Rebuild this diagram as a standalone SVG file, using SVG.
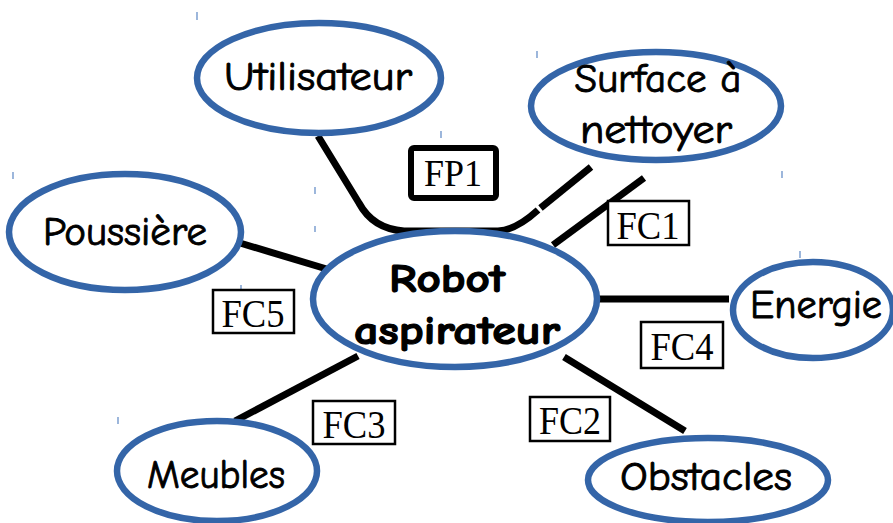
<svg xmlns="http://www.w3.org/2000/svg" width="893" height="523" viewBox="0 0 893 523">
  <style>
    .node { fill: #ffffff; stroke: #3465a8; stroke-width: 6.5; }
    .lbl { font-family: "Comic Neue", "DejaVu Sans", sans-serif; font-size: 40px; font-weight: 400; fill: #000; stroke: #000; stroke-width: 0.9; text-anchor: middle; }
    .main { font-size: 41px; font-weight: 700; stroke-width: 1.2; }
    .link { fill: none; stroke: #000; stroke-width: 7; stroke-linecap: butt; stroke-linejoin: round; }
    .fc rect { fill: #fff; stroke: #000; stroke-width: 2.5; }
    .fc text { font-family: "Liberation Serif", serif; font-size: 40px; fill: #000; text-anchor: middle; }
    .tick { stroke: #5b86c4; stroke-width: 1.2; }
  </style>

  <rect width="893" height="523" fill="#ffffff"/>

  <!-- cursor ticks -->
  <g id="ticks">
    <line class="tick" x1="197" y1="12" x2="197" y2="20"/>
    <line class="tick" x1="537" y1="51" x2="537" y2="58"/>
    <line class="tick" x1="13" y1="172" x2="13" y2="179"/>
    <line class="tick" x1="315" y1="187" x2="315" y2="194"/>
    <line class="tick" x1="441" y1="131" x2="441" y2="138"/>
    <line class="tick" x1="315" y1="226" x2="315" y2="232"/>
    <line class="tick" x1="241" y1="285" x2="241" y2="291"/>
    <line class="tick" x1="118" y1="417" x2="118" y2="424"/>
    <line class="tick" x1="782" y1="171" x2="782" y2="178"/>
    <line class="tick" x1="800" y1="251" x2="800" y2="258"/>
  </g>

  <!-- connectors -->
  <g id="connectors">
    <path class="link" d="M318,136 L359,203 Q373,229 404,231 L498,231 Q516,230 538,210"/>
    <line class="link" x1="540.5" y1="208" x2="591" y2="167"/>
    <line class="link" x1="644" y1="178" x2="553" y2="245"/>
    <line class="link" x1="240" y1="243" x2="330" y2="270"/>
    <line class="link" x1="597" y1="299" x2="729" y2="299"/>
    <line class="link" x1="235" y1="421" x2="358" y2="356"/>
    <line class="link" x1="564" y1="357" x2="685" y2="431"/>
  </g>

  <g id="utilisateur">
    <ellipse class="node" cx="319" cy="78" rx="122" ry="55"/>
    <text class="lbl" x="318" y="90" textLength="188" lengthAdjust="spacingAndGlyphs">Utilisateur</text>
  </g>

  <g id="surface">
    <ellipse class="node" cx="656" cy="106" rx="125" ry="54"/>
    <text class="lbl" x="658" y="92" textLength="167" lengthAdjust="spacingAndGlyphs">Surface à</text>
    <text class="lbl" x="656" y="143" textLength="152" lengthAdjust="spacingAndGlyphs">nettoyer</text>
  </g>

  <g id="poussiere">
    <ellipse class="node" cx="125" cy="232" rx="116" ry="58"/>
    <text class="lbl" x="125" y="245" textLength="164" lengthAdjust="spacingAndGlyphs">Poussière</text>
  </g>

  <g id="robot">
    <ellipse class="node" cx="455" cy="299" rx="142" ry="68"/>
    <text class="lbl main" x="447" y="292" textLength="116" lengthAdjust="spacingAndGlyphs">Robot</text>
    <text class="lbl main" x="457" y="344" textLength="206" lengthAdjust="spacingAndGlyphs">aspirateur</text>
  </g>

  <g id="energie">
    <ellipse class="node" cx="813" cy="310" rx="80" ry="48"/>
    <text class="lbl" x="816" y="318" textLength="132" lengthAdjust="spacingAndGlyphs">Energie</text>
  </g>

  <g id="meubles">
    <ellipse class="node" cx="217" cy="471" rx="100" ry="50"/>
    <text class="lbl" x="216" y="488" textLength="138" lengthAdjust="spacingAndGlyphs">Meubles</text>
  </g>

  <g id="obstacles">
    <ellipse class="node" cx="708" cy="480" rx="120" ry="42"/>
    <text class="lbl" x="706" y="490" textLength="172" lengthAdjust="spacingAndGlyphs">Obstacles</text>
  </g>

  <!-- function labels -->
  <g id="fp1" class="fc">
    <rect x="411" y="148" width="85" height="50" rx="3" style="stroke-width:6"/>
    <text x="453" y="186" style="font-size:38px" textLength="58" lengthAdjust="spacingAndGlyphs">FP1</text>
  </g>
  <g id="fc1" class="fc">
    <rect x="608" y="201" width="81" height="44"/>
    <text x="648" y="239" textLength="63" lengthAdjust="spacingAndGlyphs">FC1</text>
  </g>
  <g id="fc5" class="fc">
    <rect x="213" y="290" width="81" height="43"/>
    <text x="253" y="327" textLength="63" lengthAdjust="spacingAndGlyphs">FC5</text>
  </g>
  <g id="fc4" class="fc">
    <rect x="641" y="322" width="82" height="46"/>
    <text x="682" y="360" textLength="63" lengthAdjust="spacingAndGlyphs">FC4</text>
  </g>
  <g id="fc3" class="fc">
    <rect x="313" y="401" width="82" height="43"/>
    <text x="354" y="438" textLength="63" lengthAdjust="spacingAndGlyphs">FC3</text>
  </g>
  <g id="fc2" class="fc">
    <rect x="530" y="397" width="80" height="44"/>
    <text x="570" y="434" textLength="62" lengthAdjust="spacingAndGlyphs">FC2</text>
  </g>
</svg>
